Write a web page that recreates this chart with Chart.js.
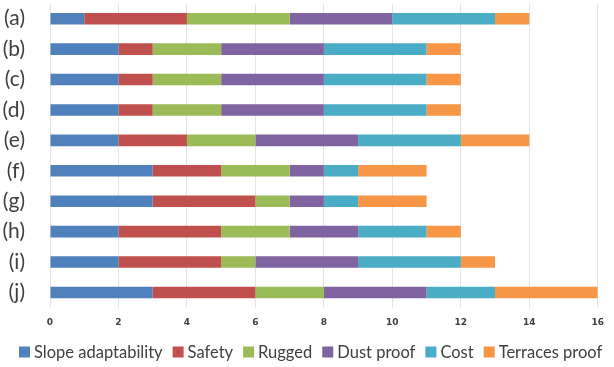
<!DOCTYPE html>
<html>
<head>
<meta charset="utf-8">
<script src="https://cdn.jsdelivr.net/npm/chart.js@4"></script>
<style>
  html, body { margin: 0; padding: 0; background: #ffffff; }
  #wrap { width: 614px; height: 367px; }
</style>
</head>
<body>
<div id="wrap"><canvas id="c" width="614" height="367"></canvas></div>
<script>
const categories = ['(a)', '(b)', '(c)', '(d)', '(e)', '(f)', '(g)', '(h)', '(i)', '(j)'];
const slopeAdaptability = [1, 2, 2, 2, 2, 3, 3, 2, 2, 3];
const safety            = [3, 1, 1, 1, 2, 2, 3, 3, 3, 3];
const rugged            = [3, 2, 2, 2, 2, 2, 1, 2, 1, 2];
const dustProof         = [3, 3, 3, 3, 3, 1, 1, 2, 3, 3];
const cost              = [3, 3, 3, 3, 3, 1, 1, 2, 3, 2];
const terracesProof     = [1, 1, 1, 1, 2, 2, 2, 1, 1, 3];
const xTicks = [0, 2, 4, 6, 8, 10, 12, 14, 16];

const seriesDefs = [
  ['Slope adaptability', slopeAdaptability, '#4F81BD'],
  ['Safety', safety, '#C0504D'],
  ['Rugged', rugged, '#9BBB59'],
  ['Dust proof', dustProof, '#8064A2'],
  ['Cost', cost, '#4BACC6'],
  ['Terraces proof', terracesProof, '#F79646']
];

// Single-row legend along the bottom edge, drawn on the canvas.
const bottomLegend = {
  id: 'bottomLegend',
  afterDraw(chart) {
    const ctx = chart.ctx;
    const y = 352, box = 11, gap = 4, spacing = 10, x0 = 19, xMax = 610;
    const labels = chart.data.datasets.map(ds => ds.label);
    // largest font size that keeps the row inside the canvas
    let size = 19;
    for (; size > 10; size -= 0.5) {
      ctx.font = size + 'px Lato';
      const w = labels.reduce((t, l) => t + box + gap + ctx.measureText(l).width, 0) + spacing * (labels.length - 1);
      if (x0 + w <= xMax) break;
    }
    ctx.save();
    ctx.font = size + 'px Lato';
    ctx.textBaseline = 'middle';
    ctx.textAlign = 'left';
    let x = x0;
    chart.data.datasets.forEach(ds => {
      ctx.fillStyle = ds.backgroundColor;
      ctx.fillRect(x, y - box / 2, box, box);
      x += box + gap;
      ctx.fillStyle = '#404040';
      ctx.fillText(ds.label, x, y + 1);
      x += ctx.measureText(ds.label).width + spacing;
    });
    ctx.restore();
  }
};

new Chart(document.getElementById('c'), {
  type: 'bar',
  data: {
    labels: categories,
    datasets: seriesDefs.map(([label, data, color]) => ({
      label, data, backgroundColor: color, borderWidth: 0,
      barPercentage: 0.38, categoryPercentage: 1.0
    }))
  },
  plugins: [bottomLegend],
  options: {
    indexAxis: 'y',
    responsive: false,
    animation: false,
    layout: { padding: { left: 0, right: 11, top: 3.5, bottom: 28.5 } },
    scales: {
      x: {
        stacked: true, min: 0, max: 16,
        afterBuildTicks: s => { s.ticks = xTicks.map(v => ({ value: v })); },
        grid: { color: '#e4e4e4', drawTicks: false },
        border: { display: false },
        ticks: { color: '#404040', padding: 10, font: { family: 'DejaVu Sans', size: 9, weight: 'bold' } }
      },
      y: {
        stacked: true,
        grid: { display: false },
        border: { display: false },
        afterFit: s => { s.width = 50; s.paddingTop = 0; s.paddingBottom = 0; },
        ticks: { color: '#404040', padding: 17, font: { family: 'Lato', size: 21 } }
      }
    },
    plugins: {
      legend: { display: false },
      tooltip: { enabled: false }
    }
  }
});
</script>
</body>
</html>
